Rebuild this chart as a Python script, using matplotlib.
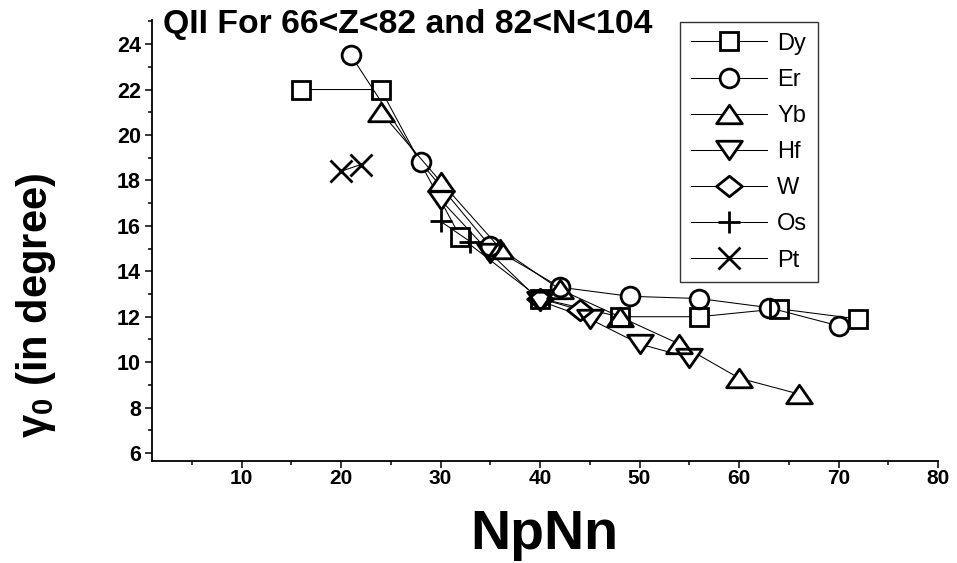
import matplotlib
matplotlib.use("Agg")
import matplotlib.pyplot as plt
from matplotlib.path import Path
from matplotlib.lines import Line2D
from matplotlib.ticker import MultipleLocator

plt.rcParams['font.family'] = ['Liberation Sans', 'DejaVu Sans']

# ---- data ----
dy_x = [16, 24, 32, 40, 48, 56, 64, 72]
dy_y = [22.0, 22.0, 15.5, 12.8, 12.0, 12.0, 12.35, 11.9]
er_x = [21, 28, 35, 42, 49, 56, 63, 70]
er_y = [23.5, 18.8, 15.1, 13.3, 12.9, 12.8, 12.4, 11.6]
yb_x = [24, 30, 36, 42, 48, 54, 60, 66]
yb_y = [21.0, 17.95, 15.0, 13.2, 12.0, 10.8, 9.3, 8.6]
hf_x = [30, 35, 40, 45, 50, 55]
hf_y = [17.15, 14.8, 12.7, 11.9, 10.8, 10.2]
w_x = [40, 44]
w_y = [12.8, 12.3]
os_x = [30, 33]
os_y = [16.2, 15.3]
pt_x = [20, 22]
pt_y = [18.4, 18.7]
labels = ['Dy', 'Er', 'Yb', 'Hf', 'W', 'Os', 'Pt']
title_text = 'QII For 66<Z<82 and 82<N<104'

# ---- markers ----
def closed(verts):
    codes = [Path.MOVETO] + [Path.LINETO] * (len(verts) - 2) + [Path.CLOSEPOLY]
    return Path(verts, codes)

tri_up = closed([(0, 0.72), (1, -0.72), (-1, -0.72), (0, 0.72)])
tri_dn = closed([(0, -0.72), (1, 0.72), (-1, 0.72), (0, -0.72)])
diamond = closed([(0, 0.8), (1, 0), (0, -0.8), (-1, 0), (0, 0.8)])

series = [
    (dy_x, dy_y, 's', 12.5),
    (er_x, er_y, 'o', 13.5),
    (yb_x, yb_y, tri_up, 18.5),
    (hf_x, hf_y, tri_dn, 18.5),
    (w_x, w_y, diamond, 18.5),
    (os_x, os_y, '+', 15.5),
    (pt_x, pt_y, 'x', 15.5),
]
mew = 2.0
lw = 0.75

W, H = 957, 563
fig = plt.figure(figsize=(W / 100, H / 100), dpi=100)
ax = fig.add_axes([152 / W, 1 - 461 / H, (938 - 152) / W, (461 - 20) / H])

for i, (xs, ys, m, ms) in enumerate(series):
    ax.plot(xs, ys, color='black', lw=lw, zorder=2 + 2 * i)
    ax.plot(xs, ys, ls='none', marker=m, ms=ms, mfc='white', mec='none', zorder=3 + 2 * i)
for xs, ys, m, ms in series:
    ax.plot(xs, ys, ls='none', marker=m, ms=ms, mfc='none', mec='black', mew=mew, zorder=100)

ax.set_xlim(1, 80)
ax.set_ylim(5.65, 25.06)
ax.xaxis.set_major_locator(MultipleLocator(10))
ax.xaxis.set_minor_locator(MultipleLocator(5))
ax.yaxis.set_major_locator(MultipleLocator(2))
ax.yaxis.set_minor_locator(MultipleLocator(1))
ax.spines['top'].set_visible(False)
ax.spines['right'].set_visible(False)
for s in ('left', 'bottom'):
    ax.spines[s].set_linewidth(1.3)
ax.tick_params(which='major', direction='out', length=5, width=1.1)
ax.tick_params(which='minor', direction='out', length=3, width=1.1)
ax.tick_params(axis='x', which='major', labelsize=15, pad=1)
ax.tick_params(axis='y', which='major', labelsize=15.5, pad=3)
ax.set_xticks([10, 20, 30, 40, 50, 60, 70, 80])
for lab in ax.get_xticklabels() + ax.get_yticklabels():
    lab.set_fontweight('bold')

fig.text(544 / W, 1 - 535 / H, 'NpNn', fontsize=40, fontweight='bold', ha='center', va='center')
fig.text(36 / W, 1 - 305 / H, r'γ$_\mathregular{0}$ (in degree)', fontsize=30, fontweight='bold',
         rotation=90, ha='center', va='center')
fig.text(163 / W, 1 - 24 / H, title_text, ha='left', va='center', fontsize=24.3, fontweight='bold')

handles = [Line2D([], [], color='black', lw=lw, marker=m, ms=ms, mfc='white', mec='black', mew=mew)
           for (_, _, m, ms) in series]
leg = ax.legend(handles, labels, loc='upper right',
                bbox_to_anchor=((818 - 152) / (938 - 152), (461 - 22) / (461 - 20)),
                fontsize=17, frameon=True, fancybox=False, edgecolor='black',
                handlelength=3.2, handletextpad=0.45, labelspacing=0.6, borderpad=0.45,
                borderaxespad=0)
leg.get_frame().set_linewidth(1.0)

fig.savefig('out.png', dpi=100)
